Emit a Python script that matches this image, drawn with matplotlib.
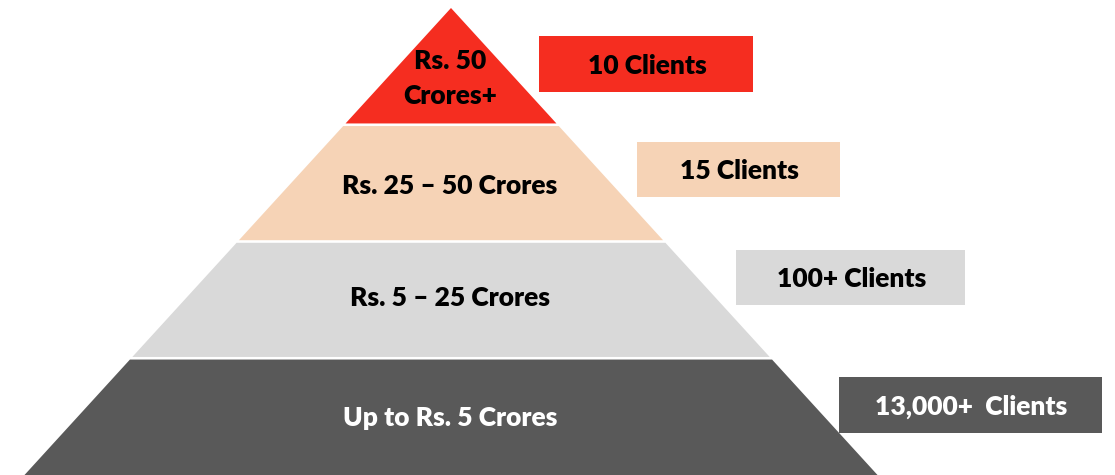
import matplotlib
matplotlib.use("Agg")
import matplotlib.pyplot as plt
from matplotlib.patches import Polygon, Rectangle

# ---- data ----
tier_labels = ["Rs. 50\nCrores+", "Rs. 25 \u2013 50 Crores", "Rs. 5 \u2013 25 Crores", "Up to Rs. 5 Crores"]
client_labels = ["10 Clients", "15 Clients", "100+ Clients", "13,000+  Clients"]
tier_colors = ["#F52D20", "#F6D3B6", "#D9D9D9", "#595959"]
text_colors = ["#000000", "#000000", "#000000", "#FFFFFF"]

W, H = 1115, 475
fig = plt.figure(figsize=(W / 100, H / 100), dpi=100)
ax = fig.add_axes([0, 0, 1, 1])
ax.set_xlim(0, W)
ax.set_ylim(H, 0)
ax.axis("off")

plt.rcParams["font.family"] = ["Lato", "DejaVu Sans"]
FS = 19
WEIGHT = "heavy"

apex_x, apex_y, base_y = 451, 8, 475
half_base = 426.5
slope = half_base / (base_y - apex_y)
n = len(tier_labels)
band = (base_y - apex_y) / n
gap = 2.6

def hw(y):
    return (y - apex_y) * slope

# layout: baseline of the last label line within each tier, line pitch
tier_baselines = [104, 194.5, 305.5, 425.5]
line_pitch = 35
# box layout (left, top, width, height)
boxes = [(539, 36, 214, 56), (637, 142, 203, 55), (736, 250, 229, 55), (839, 377, 263, 56)]
box_base_off = 9.5

for i in range(n):
    yt = apex_y + i * band + (gap / 2 if i > 0 else 0)
    yb = apex_y + (i + 1) * band - (gap / 2 if i < n - 1 else 0)
    if i == 0:
        pts = [(apex_x, yt), (apex_x + hw(yb), yb), (apex_x - hw(yb), yb)]
    else:
        pts = [(apex_x - hw(yt), yt), (apex_x + hw(yt), yt), (apex_x + hw(yb), yb), (apex_x - hw(yb), yb)]
    ax.add_patch(Polygon(pts, closed=True, facecolor=tier_colors[i], edgecolor="none"))

    lines = tier_labels[i].split("\n")
    for k, line in enumerate(lines):
        by_ = tier_baselines[i] - (len(lines) - 1 - k) * line_pitch
        ax.text(apex_x - 1, by_, line, ha="center", va="baseline", fontsize=FS,
                fontweight=WEIGHT, color=text_colors[i])

    bx, by, bw, bh = boxes[i]
    ax.add_patch(Rectangle((bx, by), bw, bh, facecolor=tier_colors[i], edgecolor="none"))
    ax.text(bx + bw / 2 + 1, by + bh / 2 + box_base_off, client_labels[i], ha="center", va="baseline",
            fontsize=FS, fontweight=WEIGHT, color=text_colors[i])

fig.savefig("out.png", dpi=100, facecolor="white")
